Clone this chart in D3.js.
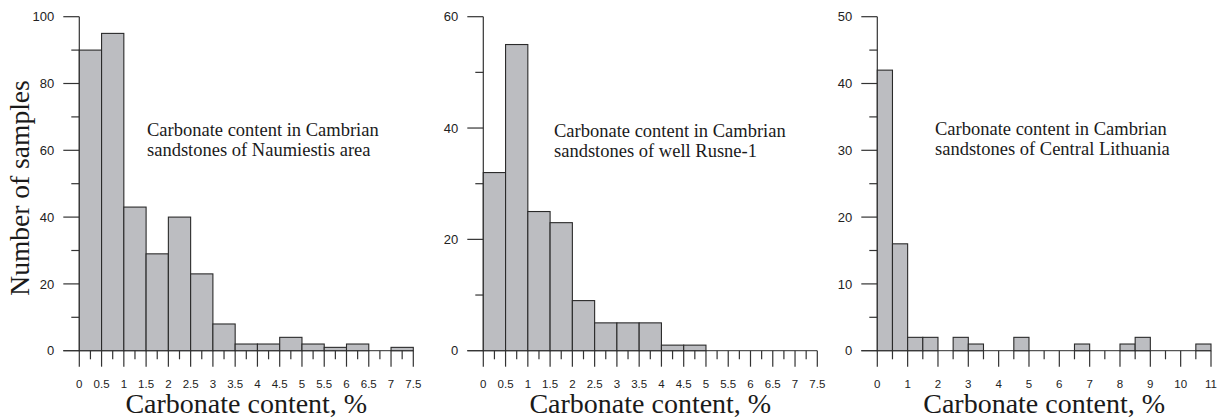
<!DOCTYPE html>
<html>
<head>
<meta charset="utf-8">
<script src="https://cdn.jsdelivr.net/npm/d3@7"></script>
<style>
  html, body { margin: 0; padding: 0; background: #fff; }
  svg { display: block; }
</style>
</head>
<body>
<svg id="chart" width="1219" height="419"></svg>
<script>
// ---- Data ----
const binWidth = 0.5;
const naumiestisCounts = [90, 95, 43, 29, 40, 23, 8, 2, 2, 4, 2, 1, 2, 0, 1];
const rusneCounts = [32, 55, 25, 23, 9, 5, 5, 5, 1, 1, 0, 0, 0, 0, 0];
const centralCounts = [42, 16, 2, 2, 0, 2, 1, 0, 0, 2, 0, 0, 0, 1, 0, 0, 1, 2, 0, 0, 0, 1];

const xTickLabelsA = ["0","0.5","1","1.5","2","2.5","3","3.5","4","4.5","5","5.5","6","6.5","7","7.5"];
const xTickLabelsC = ["0","1","2","3","4","5","6","7","8","9","10","11"];

const yMajorA = [0, 20, 40, 60, 80, 100];
const yMinorA = [10, 30, 50, 70, 90];
const yMajorB = [0, 20, 40, 60];
const yMinorB = [10, 30, 50];
const yMajorC = [0, 10, 20, 30, 40, 50];
const yMinorC = [5, 15, 25, 35, 45];

const notes = [
  ["Carbonate content in Cambrian", "sandstones of Naumiestis area"],
  ["Carbonate content in Cambrian", "sandstones of well Rusne-1"],
  ["Carbonate content in Cambrian", "sandstones of Central Lithuania"]
];
const xTitle = "Carbonate content, %";
const yTitle = "Number of samples";

// ---- Layout ----
const plotTop = 16.7, plotBottom = 350.7;
const panels = [
  { counts: naumiestisCounts, xMax: 7.5, yMax: 100, labels: xTickLabelsA, labelStep: 0.5, minorStep: 0.25,
    yMajor: yMajorA, yMinor: yMinorA, x0: 79.3, x1: 413.3, note: notes[0], noteX: 147, noteY: 136 },
  { counts: rusneCounts, xMax: 7.5, yMax: 60, labels: xTickLabelsA, labelStep: 0.5, minorStep: 0.25,
    yMajor: yMajorB, yMinor: yMinorB, x0: 483.3, x1: 817.3, note: notes[1], noteX: 554, noteY: 136.5 },
  { counts: centralCounts, xMax: 11, yMax: 50, labels: xTickLabelsC, labelStep: 1, minorStep: 0.5,
    yMajor: yMajorC, yMinor: yMinorC, x0: 877.3, x1: 1211, note: notes[2], noteX: 935, noteY: 134.5 }
];

const svg = d3.select("#chart");
const sans = "'Liberation Sans', Arial, sans-serif";
const serif = "'Liberation Serif', 'Times New Roman', serif";
const majorLen = 16, minorLen = 8;

panels.forEach(p => {
  const x = d3.scaleLinear().domain([0, p.xMax]).range([p.x0, p.x1]);
  const y = d3.scaleLinear().domain([0, p.yMax]).range([plotBottom, plotTop]);
  const g = svg.append("g");

  // x axis baseline (extends left by the major tick length)
  g.append("line")
    .attr("x1", p.x0 - majorLen).attr("x2", p.x1)
    .attr("y1", y(0)).attr("y2", y(0))
    .attr("stroke", "#555").attr("stroke-width", 1.2);

  // y axis line
  g.append("line")
    .attr("x1", x(0)).attr("x2", x(0))
    .attr("y1", y(p.yMax)).attr("y2", y(0))
    .attr("stroke", "#333").attr("stroke-width", 1.2);

  // y ticks
  g.selectAll(".ymaj").data(p.yMajor).enter().append("line")
    .attr("x1", x(0) - majorLen).attr("x2", x(0))
    .attr("y1", d => y(d)).attr("y2", d => y(d))
    .attr("stroke", "#333").attr("stroke-width", 1.2);
  g.selectAll(".ymin").data(p.yMinor).enter().append("line")
    .attr("x1", x(0) - minorLen).attr("x2", x(0))
    .attr("y1", d => y(d)).attr("y2", d => y(d))
    .attr("stroke", "#333").attr("stroke-width", 1.2);
  g.selectAll(".ylab").data(p.yMajor).enter().append("text")
    .attr("x", x(0) - majorLen - 9)
    .attr("y", d => y(d))
    .attr("dy", "0.36em")
    .attr("text-anchor", "end")
    .attr("font-family", sans).attr("font-size", 13).attr("fill", "#222")
    .text(d => d);

  // bars
  const bars = p.counts.map((c, i) => ({ start: i * binWidth, count: c })).filter(d => d.count > 0);
  g.selectAll(".bar").data(bars).enter().append("rect")
    .attr("x", d => x(d.start))
    .attr("y", d => y(d.count))
    .attr("width", d => x(d.start + binWidth) - x(d.start))
    .attr("height", d => y(0) - y(d.count))
    .attr("fill", "#bcbdc1")
    .attr("stroke", "#2a2a2a").attr("stroke-width", 1.1);

  // x ticks
  const nMajor = Math.round(p.xMax / p.labelStep);
  const majors = d3.range(nMajor + 1).map(i => i * p.labelStep);
  const minors = d3.range(nMajor).map(i => i * p.labelStep + p.minorStep);
  g.selectAll(".xmaj").data(majors).enter().append("line")
    .attr("x1", d => x(d)).attr("x2", d => x(d))
    .attr("y1", y(0)).attr("y2", y(0) + majorLen)
    .attr("stroke", "#333").attr("stroke-width", 1.2);
  g.selectAll(".xmin").data(minors).enter().append("line")
    .attr("x1", d => x(d)).attr("x2", d => x(d))
    .attr("y1", y(0)).attr("y2", y(0) + minorLen + 0.6)
    .attr("stroke", "#333").attr("stroke-width", 1.2);
  g.selectAll(".xlab").data(majors).enter().append("text")
    .attr("x", d => x(d))
    .attr("y", 388.3)
    .attr("text-anchor", "middle")
    .attr("font-family", sans).attr("font-size", 11.5).attr("fill", "#222")
    .text((d, i) => p.labels[i]);

  // x title
  g.append("text")
    .attr("x", (p.x0 + p.x1) / 2)
    .attr("y", 413)
    .attr("text-anchor", "middle")
    .attr("font-family", serif).attr("font-size", 28).attr("fill", "#1a1a1a")
    .text(xTitle);

  // annotation
  const t = g.append("text")
    .attr("font-family", serif).attr("font-size", 18.5).attr("fill", "#1a1a1a");
  p.note.forEach((line, i) => {
    t.append("tspan").attr("x", p.noteX).attr("y", p.noteY + i * 20.3).text(line);
  });
});

// y title
svg.append("text")
  .attr("transform", "translate(29,188) rotate(-90)")
  .attr("text-anchor", "middle")
  .attr("font-family", serif).attr("font-size", 27.5).attr("fill", "#1a1a1a")
  .text(yTitle);
</script>
</body>
</html>
